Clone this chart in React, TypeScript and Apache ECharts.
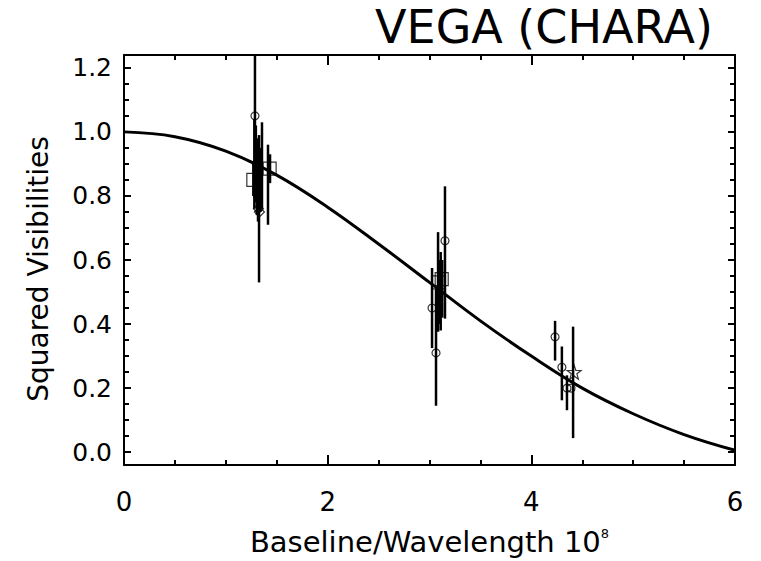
import React, { useEffect, useRef } from "react";
import * as echarts from "echarts";

// Model curve
const curveX = [0, 0.5, 1, 1.5, 2, 2.5, 3, 3.5, 4, 4.5, 5, 5.5, 6];
const curveY = [1.0, 0.985, 0.94, 0.865, 0.765, 0.65, 0.53, 0.41, 0.3, 0.2, 0.12, 0.055, 0.006];

// Error bars: x, low, high
const barX = [1.286, 1.27, 1.28, 1.295, 1.305, 1.316, 1.326, 1.34, 1.355, 1.414, 1.434, 3.025, 3.064, 3.084, 3.1, 3.11, 3.125, 3.152, 4.233, 4.3, 4.35, 4.41];
const barLo = [0.83, 0.8, 0.76, 0.78, 0.74, 0.72, 0.53, 0.75, 0.76, 0.71, 0.84, 0.325, 0.145, 0.376, 0.4, 0.38, 0.42, 0.417, 0.286, 0.162, 0.131, 0.044];
const barHi = [1.3, 0.9, 1.04, 1.02, 0.98, 0.8, 0.99, 0.95, 1.03, 0.96, 0.93, 0.575, 0.51, 0.687, 0.6, 0.625, 0.6, 0.83, 0.41, 0.33, 0.24, 0.392];

// Markers
const circleX = [1.286, 1.3, 1.31, 3.025, 3.064, 3.152, 4.233, 4.3, 4.35, 4.39];
const circleY = [1.05, 0.9, 0.8, 0.45, 0.31, 0.66, 0.36, 0.265, 0.2, 0.2];
const squareX = [1.27, 1.43, 3.09, 3.12];
const squareY = [0.85, 0.885, 0.53, 0.54];
const diamondX = [1.32, 1.33];
const diamondY = [0.76, 0.75];
const starX = [4.42];
const starY = [0.25];

const xTickLabels = ["0", "2", "4", "6"];

const FONT = "DejaVu Sans";
const STAR =
  "path://M0,-10 L2.35,-3.24 L9.51,-3.09 L3.8,1.24 L5.88,8.09 L0,4 L-5.88,8.09 L-3.8,1.24 L-9.51,-3.09 L-2.35,-3.24 Z";

const zip = (a: number[], b: number[]) => a.map((v, i) => [v, b[i]]);

export default function App() {
  const ref = useRef<HTMLDivElement>(null);
  useEffect(() => {
    if (!ref.current) return;
    const chart = echarts.init(ref.current, undefined, { renderer: "svg" });
    const axisLine = { show: true, onZero: false, lineStyle: { color: "#000", width: 2 } };
    const xBase = {
      type: "value" as const,
      min: 0,
      max: 6,
      interval: 2,
      axisLine,
      axisTick: { show: true, inside: true, length: 10, lineStyle: { color: "#000", width: 2 } },
      minorTick: { show: true, splitNumber: 4, length: 5, lineStyle: { color: "#000", width: 2 } },
      splitLine: { show: false },
      minorSplitLine: { show: false },
    };
    const yBase = {
      type: "value" as const,
      min: -0.04,
      max: 1.24,
      splitNumber: 6,
      axisLine,
      axisTick: { show: true, inside: true, length: 7, lineStyle: { color: "#000", width: 2 } },
      minorTick: { show: true, splitNumber: 4, length: 5, lineStyle: { color: "#000", width: 2 } },
      splitLine: { show: false },
      minorSplitLine: { show: false },
    };
    const hollow = { color: "rgba(0,0,0,0)", borderColor: "#000", borderWidth: 1.2 };
    chart.setOption({
      animation: false,
      backgroundColor: "#fff",
      textStyle: { fontFamily: FONT },
      title: {
        text: "VEGA (CHARA)",
        right: 48,
        top: 3,
        padding: 0,
        textStyle: { fontFamily: FONT, fontSize: 46, lineHeight: 48, fontWeight: "normal", color: "#000" },
      },
      grid: { left: 124, right: 26, top: 55, bottom: 94, containLabel: false },
      xAxis: [
        {
          ...xBase,
          position: "bottom",
          axisLabel: {
            color: "#000",
            fontSize: 26,
            margin: 24,
            fontFamily: FONT,
            formatter: (v: number) => xTickLabels[Math.round(v / 2)] ?? "",
          },
          name: "{n|Baseline/Wavelength 10}{s|8}",
          nameLocation: "middle",
          nameGap: 62,
          nameTextStyle: {
            rich: {
              n: { fontSize: 29, fontFamily: FONT, color: "#000" },
              s: { fontSize: 13, fontFamily: FONT, color: "#000", verticalAlign: "top", padding: [0, 0, 14, 0] },
            },
          },
        },
        { ...xBase, position: "top", axisLabel: { show: false } },
      ],
      yAxis: [
        {
          ...yBase,
          position: "left",
          axisLabel: {
            color: "#000",
            fontSize: 25,
            margin: 12,
            fontFamily: FONT,
            showMinLabel: false,
            showMaxLabel: false,
            formatter: (v: number) => v.toFixed(1),
          },
          name: "Squared Visibilities",
          nameLocation: "middle",
          nameGap: 72,
          nameTextStyle: { fontSize: 28, fontFamily: FONT, color: "#000", padding: [0, 18, 0, 0] },
        },
        { ...yBase, position: "right", axisLabel: { show: false } },
      ],
      series: [
        {
          type: "line",
          data: zip(curveX, curveY),
          smooth: 0.4,
          symbol: "none",
          lineStyle: { color: "#000", width: 3 },
          z: 2,
        },
        {
          type: "custom",
          clip: true,
          data: barX.map((x, i) => [x, barLo[i], barHi[i]]),
          renderItem: (_p: any, api: any) => {
            const a = api.coord([api.value(0), api.value(1)]);
            const b = api.coord([api.value(0), api.value(2)]);
            return {
              type: "line",
              shape: { x1: a[0], y1: a[1], x2: b[0], y2: b[1] },
              style: { stroke: "#000", lineWidth: 2.5 },
            };
          },
          z: 3,
        },
        {
          type: "scatter",
          data: zip(circleX, circleY),
          symbol: "circle",
          symbolSize: 8,
          itemStyle: hollow,
          z: 4,
        },
        {
          type: "scatter",
          data: zip(squareX, squareY),
          symbol: "rect",
          symbolSize: 13,
          itemStyle: hollow,
          z: 4,
        },
        {
          type: "scatter",
          data: zip(diamondX, diamondY),
          symbol: "diamond",
          symbolSize: 10,
          itemStyle: hollow,
          z: 4,
        },
        {
          type: "scatter",
          data: zip(starX, starY),
          symbol: STAR,
          symbolSize: 14,
          itemStyle: hollow,
          z: 4,
        },
      ],
    });
    return () => chart.dispose();
  }, []);
  return <div ref={ref} style={{ width: 761, height: 561, position: "absolute", left: 0, top: 0 }} />;
}
